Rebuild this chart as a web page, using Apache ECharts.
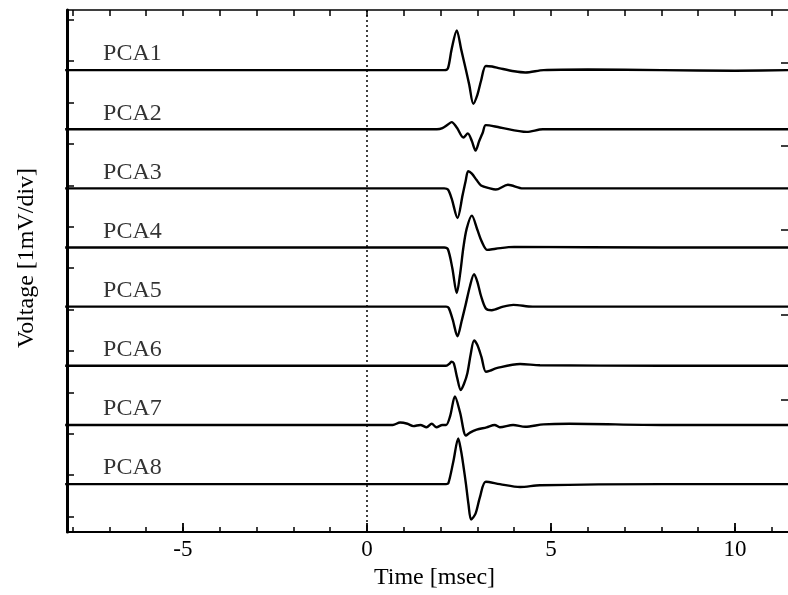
<!DOCTYPE html>
<html>
<head>
<meta charset="utf-8">
<script src="https://cdn.jsdelivr.net/npm/echarts@6/dist/echarts.min.js"></script>
<style>html,body{margin:0;padding:0;background:#fff;}#chart{width:788px;height:595px;}</style>
</head>
<body>
<div id="chart"></div>
<script>
// ---- data (time in msec, voltage relative to each trace's baseline, in divisions) ----
const traceNames = ['PCA1','PCA2','PCA3','PCA4','PCA5','PCA6','PCA7','PCA8'];
const traceOffsets = [7, 6, 5, 4, 3, 2, 1, 0];

const pca1T = [-8.2, -3, 0, 2.1, 2.2, 2.3, 2.44, 2.56, 2.69, 2.78, 2.89, 3.0, 3.1, 3.23, 3.4, 3.61, 4.0, 4.3, 4.8, 6, 8, 10, 11.6];
const pca1V = [0, 0, 0, 0, 0.03, 0.35, 0.67, 0.35, 0, -0.25, -0.57, -0.42, -0.18, 0.07, 0.06, 0.03, -0.02, -0.04, 0, 0.01, 0, -0.01, 0];

const pca2T = [-8.2, 0, 1.9, 2.05, 2.2, 2.3, 2.45, 2.62, 2.74, 2.85, 2.95, 3.05, 3.15, 3.23, 3.61, 4.34, 4.78, 8, 11.6];
const pca2V = [0, 0, 0, 0.02, 0.08, 0.12, 0.02, -0.14, -0.07, -0.2, -0.36, -0.2, -0.05, 0.07, 0.03, -0.045, 0, 0, 0];

const pca3T = [-8.2, 0, 2.1, 2.2, 2.3, 2.46, 2.6, 2.68, 2.75, 2.85, 2.98, 3.1, 3.34, 3.5, 3.83, 4.24, 8, 11.6];
const pca3V = [0, 0, 0, -0.02, -0.17, -0.5, -0.11, 0.12, 0.29, 0.25, 0.14, 0.05, 0.0, -0.02, 0.06, 0, 0, 0];

const pca4T = [-8.2, 0, 2.1, 2.2, 2.32, 2.44, 2.53, 2.62, 2.71, 2.85, 3.0, 3.12, 3.27, 3.5, 4.0, 8, 11.6];
const pca4V = [0, 0, 0, -0.03, -0.35, -0.77, -0.45, 0, 0.32, 0.54, 0.3, 0.1, -0.04, -0.02, 0.01, 0, 0];

const pca5T = [-8.2, 0, 2.15, 2.22, 2.33, 2.46, 2.57, 2.68, 2.8, 2.91, 3.0, 3.1, 3.23, 3.39, 3.7, 3.98, 4.5, 8, 11.6];
const pca5V = [0, 0, 0, -0.02, -0.22, -0.5, -0.25, 0.03, 0.35, 0.55, 0.42, 0.18, -0.03, -0.06, 0, 0.03, 0, 0, 0];

const pca6T = [-8.2, 0, 2.15, 2.25, 2.3, 2.36, 2.45, 2.55, 2.64, 2.73, 2.82, 2.91, 3.0, 3.11, 3.23, 3.35, 3.52, 4.16, 4.7, 8, 11.6];
const pca6V = [0, 0, 0, 0.04, 0.07, 0.04, -0.2, -0.41, -0.3, -0.12, 0.2, 0.43, 0.35, 0.15, -0.1, -0.08, -0.04, 0.03, 0.01, 0, 0];

const pca7T = [-8.2, 0, 0.7, 0.9, 1.1, 1.26, 1.45, 1.62, 1.76, 1.89, 2.05, 2.15, 2.26, 2.39, 2.53, 2.69, 2.8, 2.98, 3.25, 3.47, 3.61, 3.97, 4.3, 4.8, 5.5, 8, 11.6];
const pca7V = [0, 0, 0, 0.04, 0.02, -0.02, 0, -0.04, 0.02, -0.04, 0, 0.0, 0.15, 0.48, 0.21, -0.18, -0.13, -0.08, -0.04, 0.0, -0.04, 0, -0.03, 0.01, 0.02, 0, 0];

const pca8T = [-8.2, 0, 2.15, 2.21, 2.35, 2.48, 2.56, 2.62, 2.69, 2.76, 2.83, 2.95, 3.07, 3.23, 3.61, 4.16, 4.7, 8, 11.6];
const pca8V = [0, 0, 0, 0.01, 0.39, 0.77, 0.55, 0.31, 0.0, -0.35, -0.6, -0.5, -0.22, 0.04, 0, -0.05, -0.02, 0, 0];

const xTickValues = [-8, -7, -6, -5, -4, -3, -2, -1, 0, 1, 2, 3, 4, 5, 6, 7, 8, 9, 10, 11];
const xMajorTicks = [-5, 0, 5, 10];
const xLabelValues = [-5, 0, 5, 10];

const traceT = [pca1T, pca2T, pca3T, pca4T, pca5T, pca6T, pca7T, pca8T];
const traceV = [pca1V, pca2V, pca3V, pca4V, pca5V, pca6V, pca7V, pca8V];

// ---- chart ----
const FONT = 'Liberation Serif';
const X_MIN = -8.15, X_MAX = 11.44;
const Y_MIN = -0.812, Y_MAX = 8.016;
const leftTicks = [7.85, 7.15, 6.45, 5.75, 5.05, 4.35, 3.65, 2.95, 2.25, 1.55, 0.85, 0.15, -0.55];
const rightTicks = [7.13, 5.72, 4.30, 2.86, 1.42, 0.0];

const chart = echarts.init(document.getElementById('chart'), null, {renderer: 'canvas'});

const series = traceNames.map((name, i) => ({
  name: name,
  type: 'line',
  xAxisIndex: 0,
  yAxisIndex: 0,
  data: traceT[i].map((t, k) => [t, traceV[i][k] + traceOffsets[i]]),
  showSymbol: false,
  smooth: 0.3,
  lineStyle: {color: '#000', width: 2.4},
  z: 3,
  silent: true
}));

series[0].markLine = {
  silent: true,
  symbol: ['none', 'none'],
  label: {show: false},
  lineStyle: {color: '#000', type: [2, 3], width: 1.5},
  data: [{xAxis: 0}]
};

series.push({
  type: 'scatter',
  xAxisIndex: 0,
  yAxisIndex: 0,
  symbolSize: 0,
  silent: true,
  data: traceNames.map((name, i) => ({name: name, value: [-7.17, traceOffsets[i] + 0.27]})),
  label: {
    show: true,
    formatter: '{b}',
    position: [0, 0],
    align: 'left',
    verticalAlign: 'middle',
    color: '#000',
    fontFamily: FONT,
    fontSize: 24
  }
});

const option = {
  animation: false,
  backgroundColor: '#fff',
  grid: {left: 67, right: 0, top: 10, bottom: 57, containLabel: false},
  xAxis: [
    {
      type: 'value', position: 'bottom', min: X_MIN, max: X_MAX,
      axisLine: {show: true, onZero: false, lineStyle: {color: '#000', width: 2}},
      axisTick: {show: true, inside: true, length: 5, customValues: xTickValues, lineStyle: {color: '#000', width: 1.5}},
      axisLabel: {show: true, customValues: xLabelValues, color: '#000', fontFamily: FONT, fontSize: 23, margin: 6,
        formatter: v => String(v)},
      splitLine: {show: false},
      name: 'Time [msec]', nameLocation: 'middle', nameGap: 29,
      nameTextStyle: {color: '#000', fontFamily: FONT, fontSize: 24, padding: [0, 0, 0, 14]}
    },
    {
      type: 'value', position: 'top', min: X_MIN, max: X_MAX,
      axisLine: {show: true, onZero: false, lineStyle: {color: '#000', width: 1.5}},
      axisTick: {show: true, inside: true, length: 6, customValues: xTickValues, lineStyle: {color: '#000', width: 1.5}},
      axisLabel: {show: false}, splitLine: {show: false}
    },
    {
      type: 'value', position: 'bottom', min: X_MIN, max: X_MAX,
      axisLine: {show: false, onZero: false},
      axisTick: {show: true, inside: true, length: 9, customValues: xMajorTicks, lineStyle: {color: '#000', width: 1.8}},
      axisLabel: {show: false}, splitLine: {show: false}
    }
  ],
  yAxis: [
    {
      type: 'value', position: 'left', min: Y_MIN, max: Y_MAX,
      axisLine: {show: true, onZero: false, lineStyle: {color: '#000', width: 3}},
      axisTick: {show: true, inside: true, length: 7, customValues: leftTicks, lineStyle: {color: '#000', width: 1.5}},
      axisLabel: {show: false}, splitLine: {show: false}
    },
    {
      type: 'value', position: 'right', min: Y_MIN, max: Y_MAX,
      axisLine: {show: false, onZero: false},
      axisTick: {show: true, inside: true, length: 7, customValues: rightTicks, lineStyle: {color: '#000', width: 1.5}},
      axisLabel: {show: false}, splitLine: {show: false}
    }
  ],
  graphic: [{
    type: 'text', x: 27, y: 258, rotation: Math.PI / 2,
    style: {text: 'Voltage [1mV/div]', fill: '#000', font: '24px "Liberation Serif"', textAlign: 'center', textVerticalAlign: 'middle'}
  }],
  series: series
};

chart.setOption(option);
</script>
</body>
</html>
